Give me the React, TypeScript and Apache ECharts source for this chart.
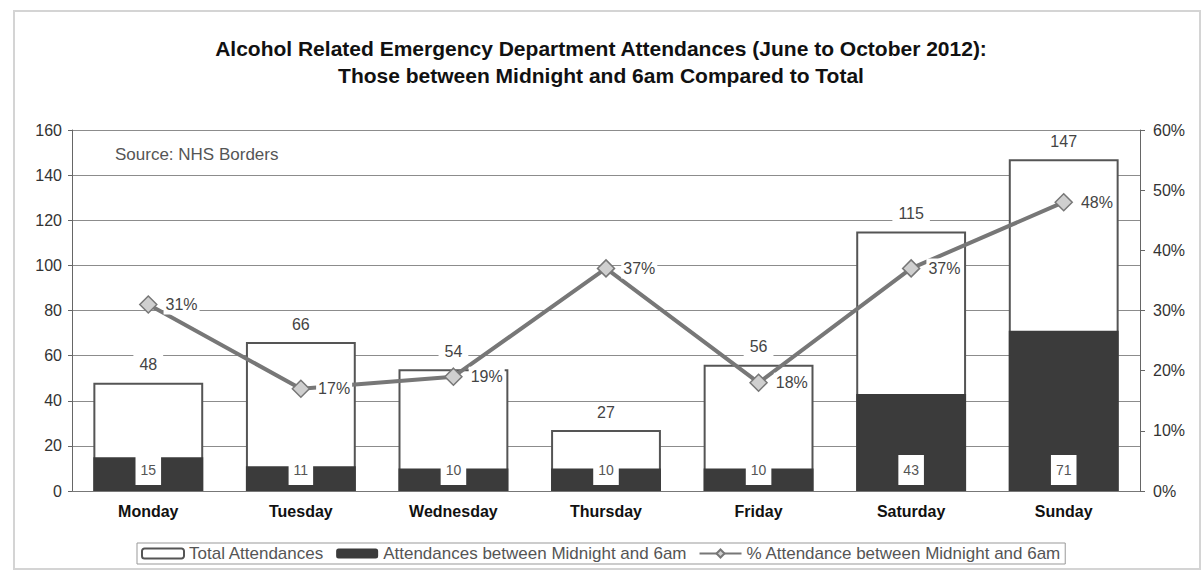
import React, { useEffect, useRef } from "react";
import * as echarts from "echarts";

const categories = ["Monday", "Tuesday", "Wednesday", "Thursday", "Friday", "Saturday", "Sunday"];
const totalAttendances = [48, 66, 54, 27, 56, 115, 147];
const midnightAttendances = [15, 11, 10, 10, 10, 43, 71];
const pctMidnight = [31, 17, 19, 37, 18, 37, 48];
const titleLines = [
  "Alcohol Related Emergency Department Attendances (June to October 2012):",
  "Those between Midnight and 6am Compared to Total",
];
const sourceText = "Source: NHS Borders";
const seriesNames = [
  "Total Attendances",
  "Attendances between Midnight and 6am",
  "% Attendance between Midnight and 6am",
];

const FONT = "'Liberation Sans', Arial, sans-serif";

export default function App() {
  const ref = useRef<HTMLDivElement>(null);
  useEffect(() => {
    if (!ref.current) return;
    const chart = echarts.init(ref.current, undefined, { renderer: "svg" });
    chart.setOption({
      animation: false,
      backgroundColor: "#fff",
      textStyle: { fontFamily: FONT },
      title: {
        text: titleLines.join("\n"),
        left: 596,
        top: 30,
        textAlign: "center",
        textStyle: { fontSize: 21, fontWeight: "bold", color: "#111", lineHeight: 27, fontFamily: FONT },
      },
      graphic: [
        {
          type: "rect",
          shape: { x: 14, y: 11, width: 1186, height: 558 },
          style: { fill: "none", stroke: "#d4d4d4", lineWidth: 2 },
          z: -1,
        },
        {
          type: "text",
          left: 115,
          top: 146,
          style: { text: sourceText, fill: "#555", fontSize: 17, fontFamily: FONT },
          z: 10,
        },
      ],
      legend: {
        top: 543,
        left: 137,
        itemWidth: 42,
        itemHeight: 10,
        itemGap: 12,
        borderColor: "#999",
        borderWidth: 1,
        padding: [2, 4],
        textStyle: { fontSize: 17, color: "#555", fontFamily: FONT },
        data: seriesNames,
      },
      grid: { left: 72, right: 64, top: 130, bottom: 82 },
      xAxis: {
        type: "category",
        data: categories,
        axisLine: { lineStyle: { color: "#777", width: 1 } },
        axisTick: { show: false },
        axisLabel: { color: "#111", fontSize: 16, fontWeight: "bold", margin: 12, fontFamily: FONT },
      },
      yAxis: [
        {
          type: "value",
          min: 0,
          max: 160,
          interval: 20,
          axisLine: { show: true, lineStyle: { color: "#666" } },
          axisTick: { show: true, length: 4, lineStyle: { color: "#666" } },
          axisLabel: { color: "#333", fontSize: 16, margin: 10, fontFamily: FONT },
          splitLine: { lineStyle: { color: "#8c8c8c", width: 1 } },
        },
        {
          type: "value",
          min: 0,
          max: 60,
          interval: 10,
          position: "right",
          axisLine: { show: true, lineStyle: { color: "#666" } },
          axisTick: { show: true, length: 5, lineStyle: { color: "#666" } },
          axisLabel: { color: "#333", fontSize: 16, margin: 13, formatter: "{value}%", fontFamily: FONT },
          splitLine: { show: false },
        },
      ],
      series: [
        {
          name: seriesNames[0],
          type: "bar",
          data: totalAttendances,
          barWidth: "72%",
          barGap: "-100%",
          itemStyle: { color: "#fff", borderColor: "#555", borderWidth: 2 },
          label: {
            show: true,
            position: "top",
            distance: 8,
            color: "#444",
            fontSize: 16,
            backgroundColor: "#fff",
            padding: [2, 6],
            fontFamily: FONT,
          },
          z: 2,
        },
        {
          name: seriesNames[1],
          type: "bar",
          data: midnightAttendances,
          barWidth: "72%",
          barGap: "-100%",
          itemStyle: { color: "#3b3b3b" },
          label: {
            show: true,
            position: "insideBottom",
            distance: 6,
            color: "#555",
            fontSize: 14,
            backgroundColor: "#fff",
            padding: [8, 5],
            fontFamily: FONT,
          },
          z: 3,
        },
        {
          name: seriesNames[2],
          type: "line",
          yAxisIndex: 1,
          data: pctMidnight,
          lineStyle: { color: "#777", width: 4 },
          itemStyle: { color: "#cfcfcf", borderColor: "#777", borderWidth: 1.5 },
          symbol: "diamond",
          symbolSize: 17,
          label: {
            show: true,
            position: "right",
            distance: 6,
            formatter: "{c}%",
            color: "#444",
            fontSize: 16,
            backgroundColor: "#fff",
            padding: [2, 2],
            fontFamily: FONT,
          },
          z: 5,
        },
      ],
    });
    return () => chart.dispose();
  }, []);
  return (
    <div
      ref={ref}
      style={{ position: "fixed", left: 0, top: 0, width: 1204, height: 573 }}
    />
  );
}
